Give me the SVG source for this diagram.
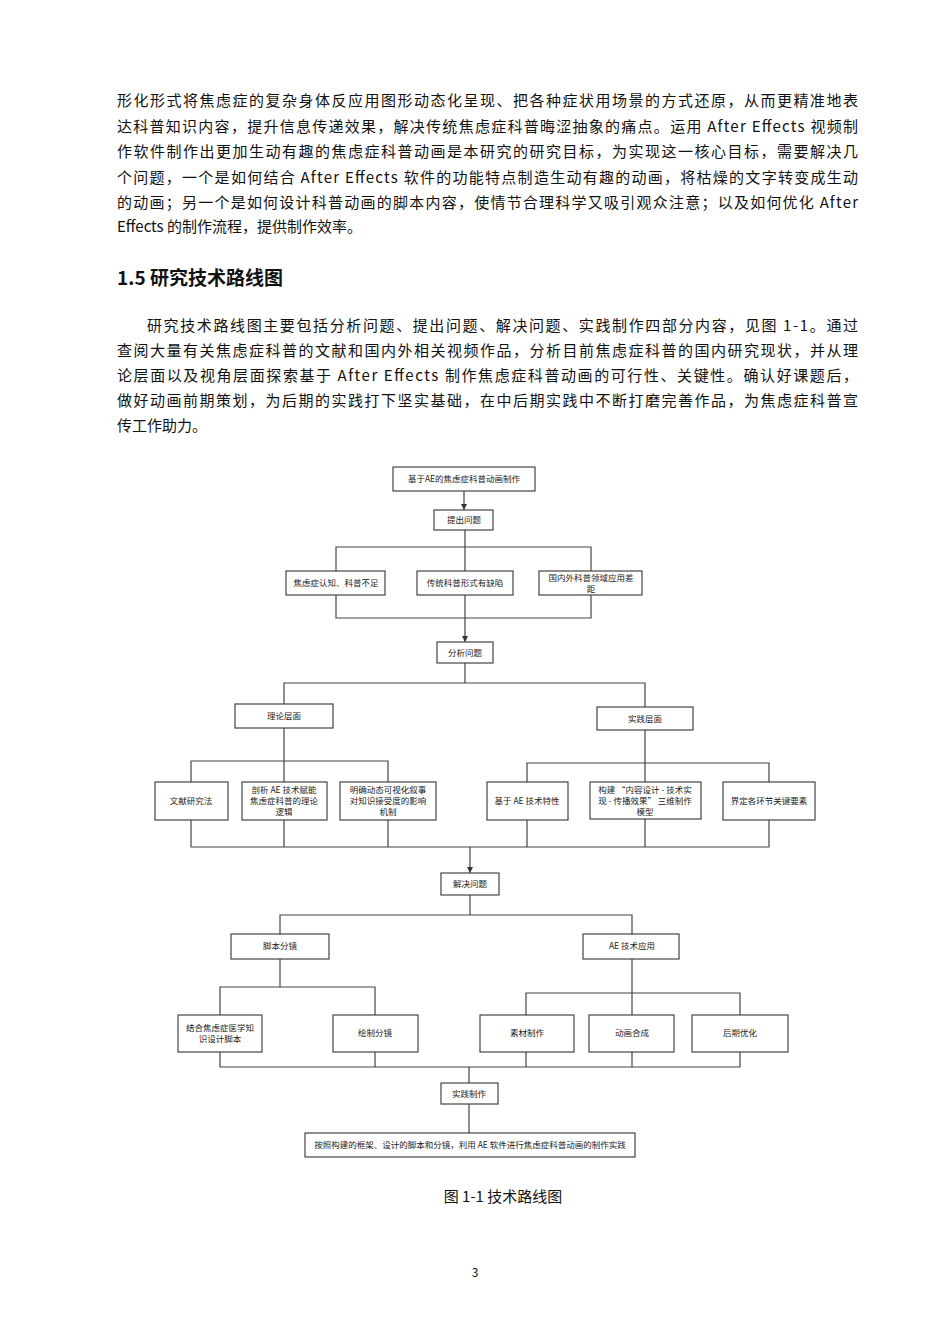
<svg xmlns="http://www.w3.org/2000/svg" width="950" height="1344" viewBox="0 0 950 1344">
<style>
.p{font-family:"Noto Sans CJK SC","Liberation Serif",serif;font-size:15px;fill:#111}
.n rect{fill:#fff;stroke:#444;stroke-width:1.2}
.n text{font-family:"Noto Sans CJK SC","Liberation Sans",sans-serif;font-size:8.5px;fill:#222;text-anchor:middle}
#c path{fill:none;stroke:#444;stroke-width:1.2}
</style>
<defs><marker id="a" markerWidth="8" markerHeight="8" refX="6" refY="3" orient="auto" markerUnits="userSpaceOnUse"><path d="M0,0L6,3L0,6z" fill="#333"/></marker></defs>
<rect width="950" height="1344" fill="#fff"/>
<g class="p">
<text x="117" y="106" textLength="741" lengthAdjust="spacing">形化形式将焦虑症的复杂身体反应用图形动态化呈现、把各种症状用场景的方式还原，从而更精准地表</text>
<text x="117" y="132" textLength="741" lengthAdjust="spacing">达科普知识内容，提升信息传递效果，解决传统焦虑症科普晦涩抽象的痛点。运用 After Effects 视频制</text>
<text x="117" y="157" textLength="741" lengthAdjust="spacing">作软件制作出更加生动有趣的焦虑症科普动画是本研究的研究目标，为实现这一核心目标，需要解决几</text>
<text x="117" y="183" textLength="741" lengthAdjust="spacing">个问题，一个是如何结合 After Effects 软件的功能特点制造生动有趣的动画，将枯燥的文字转变成生动</text>
<text x="117" y="208" textLength="741" lengthAdjust="spacing">的动画；另一个是如何设计科普动画的脚本内容，使情节合理科学又吸引观众注意；以及如何优化 After</text>
<text x="117" y="232">Effects 的制作流程，提供制作效率。</text>
<text x="117" y="285" style="font-size:19px;font-weight:bold">1.5 研究技术路线图</text>
<text x="147" y="331" textLength="711" lengthAdjust="spacing">研究技术路线图主要包括分析问题、提出问题、解决问题、实践制作四部分内容，见图 1-1。通过</text>
<text x="117" y="356" textLength="741" lengthAdjust="spacing">查阅大量有关焦虑症科普的文献和国内外相关视频作品，分析目前焦虑症科普的国内研究现状，并从理</text>
<text x="117" y="381" textLength="741" lengthAdjust="spacing">论层面以及视角层面探索基于 After Effects 制作焦虑症科普动画的可行性、关键性。确认好课题后，</text>
<text x="117" y="406" textLength="741" lengthAdjust="spacing">做好动画前期策划，为后期的实践打下坚实基础，在中后期实践中不断打磨完善作品，为焦虑症科普宣</text>
<text x="117" y="431">传工作助力。</text>
<text x="503" y="1202" text-anchor="middle">图 1-1 技术路线图</text>
<text x="475" y="1277" text-anchor="middle" style="font-size:12px">3</text>
</g>
<g id="c">
<path d="M464,491V510" marker-end="url(#a)"/>
<path d="M465,530V547M336,571V547H591V571M465,547V571"/>
<path d="M336,595V618H591V595M465,595V642" marker-end="url(#a)"/>
<path d="M465,663V683M284,704V683H645V707"/>
<path d="M284,728V761M191,782V761H388V782M284,761V782"/>
<path d="M645,730V763M527,782V763H769V782M645,763V782"/>
<path d="M191,820V847H769V820M284,820V847M388,820V847M527,820V847M645,819V847"/>
<path d="M470,847V873" marker-end="url(#a)"/>
<path d="M470,895V915M280,934V915H632V934"/>
<path d="M280,959V987M220,1015V987H375V1015"/>
<path d="M632,959V993M526,1015V993H740V1015M632,993V1015"/>
<path d="M220,1052V1067H740V1052M375,1052V1067M526,1052V1067M632,1052V1067"/>
<path d="M469,1067V1083M469,1104V1133"/>
</g>
<g class="n" id="n1"><rect x="393" y="467" width="142" height="24"/><text x="464" y="482">基于AE的焦虑症科普动画制作</text></g>
<g class="n" id="n2"><rect x="434" y="510" width="59" height="20"/><text x="464" y="523">提出问题</text></g>
<g class="n" id="n3"><rect x="286" y="571" width="99" height="24"/><text x="336" y="586">焦虑症认知、科普不足</text></g>
<g class="n" id="n4"><rect x="417" y="571" width="96" height="24"/><text x="465" y="586">传统科普形式有缺陷</text></g>
<g class="n" id="n5"><rect x="539" y="571" width="103" height="24"/><text x="591" y="581">国内外科普领域应用差</text><text x="591" y="592">距</text></g>
<g class="n" id="n6"><rect x="437" y="642" width="56" height="21"/><text x="465" y="656">分析问题</text></g>
<g class="n" id="n7"><rect x="235" y="704" width="98" height="24"/><text x="284" y="719">理论层面</text></g>
<g class="n" id="n8"><rect x="597" y="707" width="96" height="23"/><text x="645" y="722">实践层面</text></g>
<g class="n" id="n9"><rect x="155" y="782" width="73" height="38"/><text x="191" y="804">文献研究法</text></g>
<g class="n" id="n10"><rect x="242" y="782" width="85" height="38"/><text x="284" y="793">剖析 AE 技术赋能</text><text x="284" y="804">焦虑症科普的理论</text><text x="284" y="815">逻辑</text></g>
<g class="n" id="n11"><rect x="340" y="782" width="96" height="38"/><text x="388" y="793">明确动态可视化叙事</text><text x="388" y="804">对知识接受度的影响</text><text x="388" y="815">机制</text></g>
<g class="n" id="n12"><rect x="487" y="782" width="81" height="38"/><text x="527" y="804">基于 AE 技术特性</text></g>
<g class="n" id="n13"><rect x="590" y="782" width="111" height="37"/><text x="645" y="793">构建 “内容设计 - 技术实</text><text x="645" y="804">现 - 传播效果” 三维制作</text><text x="645" y="815">模型</text></g>
<g class="n" id="n14"><rect x="723" y="782" width="92" height="38"/><text x="769" y="804">界定各环节关键要素</text></g>
<g class="n" id="n15"><rect x="441" y="873" width="58" height="22"/><text x="470" y="887">解决问题</text></g>
<g class="n" id="n16"><rect x="231" y="934" width="98" height="25"/><text x="280" y="949">脚本分镜</text></g>
<g class="n" id="n17"><rect x="583" y="934" width="96" height="25"/><text x="632" y="949">AE 技术应用</text></g>
<g class="n" id="n18"><rect x="178" y="1015" width="84" height="37"/><text x="220" y="1031">结合焦虑症医学知</text><text x="220" y="1042">识设计脚本</text></g>
<g class="n" id="n19"><rect x="333" y="1015" width="85" height="37"/><text x="375" y="1036">绘制分镜</text></g>
<g class="n" id="n20"><rect x="480" y="1015" width="94" height="37"/><text x="527" y="1036">素材制作</text></g>
<g class="n" id="n21"><rect x="589" y="1015" width="85" height="37"/><text x="632" y="1036">动画合成</text></g>
<g class="n" id="n22"><rect x="692" y="1015" width="96" height="37"/><text x="740" y="1036">后期优化</text></g>
<g class="n" id="n23"><rect x="441" y="1083" width="57" height="21"/><text x="469" y="1097">实践制作</text></g>
<g class="n" id="n24"><rect x="305" y="1133" width="330" height="24"/><text x="470" y="1148">按照构建的框架、设计的脚本和分镜，利用 AE 软件进行焦虑症科普动画的制作实践</text></g>
</svg>
